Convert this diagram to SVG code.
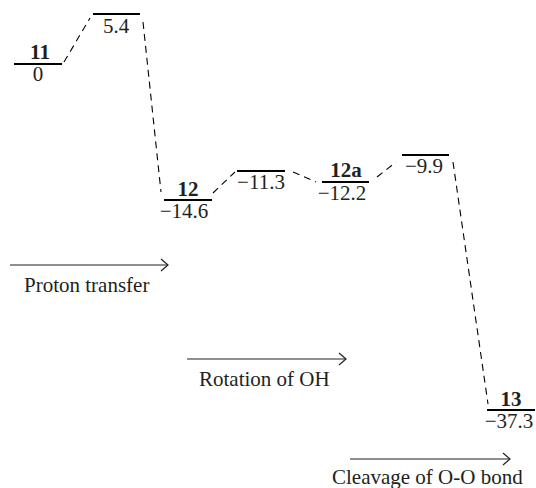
<svg xmlns="http://www.w3.org/2000/svg" width="536" height="488" viewBox="0 0 536 488">
<defs>
<style>
.lv{stroke:#000;stroke-width:2;fill:none}
.dash{stroke:#000;stroke-width:1.1;fill:none;stroke-dasharray:7 5}
.arr{stroke:#231f20;stroke-width:1.1;fill:none}
.t{font-family:"Liberation Serif","Times New Roman",serif;font-size:21px;fill:#231f20;text-anchor:middle}
.b{font-weight:bold}
.lab{text-anchor:start}
</style>
<marker id="ah" markerWidth="10" markerHeight="14" refX="8" refY="7" orient="auto" markerUnits="userSpaceOnUse">
<path d="M1,1 L8,7 L1,13" stroke="#231f20" stroke-width="1.2" fill="none"/>
</marker>
</defs>
<rect width="536" height="488" fill="#fff"/>
<g id="n11"><line class="lv" x1="14" y1="64" x2="62" y2="64"/><text class="t b" x="40" y="59">11</text><text class="t" x="38" y="81">0</text></g>
<g id="ts1"><line class="lv" x1="93" y1="14" x2="140" y2="14"/><text class="t" x="116" y="33">5.4</text></g>
<g id="n12"><line class="lv" x1="164" y1="200" x2="212" y2="200"/><text class="t b" x="188" y="196">12</text><text class="t" x="184" y="218">−14.6</text></g>
<g id="ts2"><line class="lv" x1="237" y1="171" x2="285" y2="171"/><text class="t" x="261" y="189">−11.3</text></g>
<g id="n12a"><line class="lv" x1="322" y1="182" x2="369" y2="182"/><text class="t b" x="346" y="177">12a</text><text class="t" x="342" y="200">−12.2</text></g>
<g id="ts3"><line class="lv" x1="402" y1="155" x2="449" y2="155"/><text class="t" x="424" y="173">−9.9</text></g>
<g id="n13"><line class="lv" x1="487" y1="410" x2="535" y2="410"/><text class="t b" x="511" y="406">13</text><text class="t" x="509" y="428">−37.3</text></g>
<g id="connectors">
<line class="dash" x1="64" y1="62" x2="90" y2="18"/>
<line class="dash" x1="143" y1="22" x2="161" y2="192"/>
<line class="dash" x1="213" y1="193" x2="235" y2="172"/>
<line class="dash" x1="293" y1="172" x2="316" y2="182"/>
<line class="dash" x1="377" y1="177" x2="396" y2="162"/>
<line class="dash" x1="453" y1="162" x2="488" y2="404"/>
</g>
<g id="arrows">
<line class="arr" x1="10" y1="265" x2="168" y2="265" marker-end="url(#ah)"/>
<text class="t lab" x="24" y="292">Proton transfer</text>
<line class="arr" x1="187" y1="359" x2="346" y2="359" marker-end="url(#ah)"/>
<text class="t lab" x="199" y="386">Rotation of OH</text>
<line class="arr" x1="350" y1="459" x2="510" y2="459" marker-end="url(#ah)"/>
<text class="t lab" x="332" y="484">Cleavage of O-O bond</text>
</g>
</svg>
